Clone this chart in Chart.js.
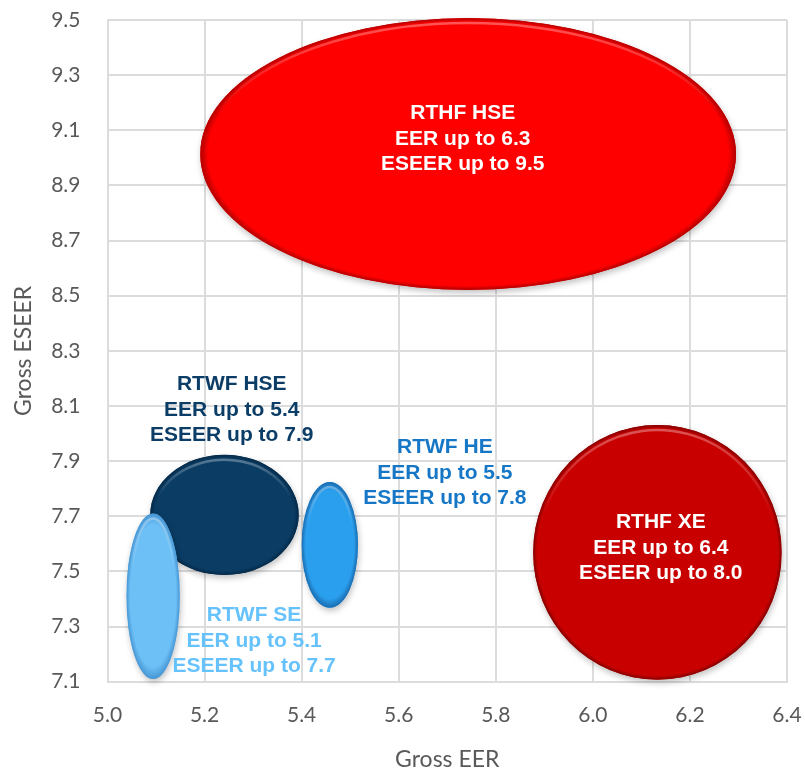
<!DOCTYPE html>
<html>
<head>
<meta charset="utf-8">
<script src="https://cdn.jsdelivr.net/npm/chart.js@4.4.1/dist/chart.umd.min.js"></script>
<style>
  html, body { margin: 0; padding: 0; background: #ffffff; }
  #wrap { width: 805px; height: 773px; position: relative; }
</style>
</head>
<body>
<div id="wrap"><canvas id="c" width="805" height="773"></canvas></div>
<script>
// ---- data ----
const categories   = ['RTHF HSE', 'RTHF XE', 'RTWF HSE', 'RTWF HE', 'RTWF SE'];
const centerEER    = [5.743, 6.133, 5.241, 5.458, 5.094];
const centerESEER  = [9.014, 7.569, 7.705, 7.596, 7.410];
const halfEER      = [0.552, 0.256, 0.153, 0.058, 0.055];
const halfESEER    = [0.493, 0.462, 0.218, 0.228, 0.300];
const maxEER       = ['6.3', '6.4', '5.4', '5.5', '5.1'];
const maxESEER     = ['9.5', '8.0', '7.9', '7.8', '7.7'];
const labelEER     = [5.732, 6.140, 5.256, 5.695, 5.302];
const labelESEER   = [9.068, 7.585, 8.085, 7.857, 7.248];
const xTicks = [5.0, 5.2, 5.4, 5.6, 5.8, 6.0, 6.2, 6.4];
const yTicks = [7.1, 7.3, 7.5, 7.7, 7.9, 8.1, 8.3, 8.5, 8.7, 8.9, 9.1, 9.3, 9.5];

// ---- styles ----
const fillBase  = ['#fe0000', '#c90000', '#0a3c64', '#2a9fee', '#6cc0f6'];
const fillDark  = ['#b00000', '#820000', '#052a48', '#1a6cb0', '#4896d4'];
const textColor = ['#ffffff', '#ffffff', '#0b3d66', '#1777c7', '#66c2fc'];

const ellipsePlugin = {
  id: 'ellipses',
  afterDatasetsDraw(chart) {
    const ctx = chart.ctx;
    const xs = chart.scales.x, ys = chart.scales.y;
    for (let i = 0; i < categories.length; i++) {
      const cx = xs.getPixelForValue(centerEER[i]);
      const cy = ys.getPixelForValue(centerESEER[i]);
      const rx = Math.abs(xs.getPixelForValue(centerEER[i] + halfEER[i]) - cx);
      const ry = Math.abs(ys.getPixelForValue(centerESEER[i] + halfESEER[i]) - cy);
      // shadow + base
      ctx.save();
      ctx.shadowColor = 'rgba(0,0,0,0.25)';
      ctx.shadowBlur = 6;
      ctx.shadowOffsetX = 1;
      ctx.shadowOffsetY = 3;
      ctx.beginPath();
      ctx.ellipse(cx, cy, rx, ry, 0, 0, Math.PI * 2);
      ctx.fillStyle = fillBase[i];
      ctx.fill();
      ctx.restore();
      // rim shading
      ctx.save();
      ctx.beginPath();
      ctx.ellipse(cx, cy, rx, ry, 0, 0, Math.PI * 2);
      ctx.clip();
      ctx.translate(cx, cy);
      ctx.scale(rx, ry);
      const g = ctx.createRadialGradient(0, -0.04, 0, 0, 0, 1);
      const rimStart = 1 - Math.min(0.14, 8 / Math.min(rx, ry) * 0.5);
      g.addColorStop(0, fillBase[i]);
      g.addColorStop(rimStart, fillBase[i]);
      g.addColorStop(1, fillDark[i]);
      ctx.fillStyle = g;
      ctx.fillRect(-1, -1, 2, 2);
      ctx.restore();
      // top highlight ring
      ctx.save();
      ctx.beginPath();
      ctx.ellipse(cx, cy + 1, Math.max(rx - 4, 1), Math.max(ry - 4, 1), 0, Math.PI * 1.08, Math.PI * 1.92);
      const lg = ctx.createLinearGradient(0, cy - ry, 0, cy - ry * 0.3);
      lg.addColorStop(0, 'rgba(255,255,255,0.35)');
      lg.addColorStop(1, 'rgba(255,255,255,0)');
      ctx.strokeStyle = lg;
      ctx.lineWidth = 2.5;
      ctx.stroke();
      ctx.restore();
    }
    // labels
    ctx.save();
    ctx.font = 'bold 21px "Liberation Sans", Arial, sans-serif';
    ctx.textAlign = 'center';
    ctx.textBaseline = 'middle';
    for (let i = 0; i < categories.length; i++) {
      const lx = xs.getPixelForValue(labelEER[i]);
      const ly = ys.getPixelForValue(labelESEER[i]);
      const lines = [categories[i], 'EER up to ' + maxEER[i], 'ESEER up to ' + maxESEER[i]];
      ctx.fillStyle = textColor[i];
      lines.forEach((t, k) => ctx.fillText(t, lx, ly + (k - 1) * 25.5));
    }
    ctx.restore();
  }
};

const tickFont = { family: 'Lato, "Open Sans", sans-serif', size: 21 };
const titleFont = { family: 'Lato, "Open Sans", sans-serif', size: 23 };

new Chart(document.getElementById('c'), {
  type: 'scatter',
  data: {
    datasets: [{
      label: 'Units',
      data: categories.map((c, i) => ({ x: centerEER[i], y: centerESEER[i] })),
      pointRadius: 0,
      pointHoverRadius: 0
    }]
  },
  options: {
    responsive: false,
    animation: false,
    events: [],
    layout: { padding: 0 },
    plugins: { legend: { display: false }, tooltip: { enabled: false } },
    scales: {
      x: {
        type: 'linear', min: 5.0, max: 6.4,
        afterBuildTicks: s => { s.ticks = xTicks.map(v => ({ value: v })); },
        afterFit: s => { s.height = 91.3; s.paddingLeft = 0; s.paddingRight = 18; },
        ticks: { color: '#595959', font: tickFont, padding: 21,
                 callback: v => Number(v).toFixed(1) },
        grid: { color: '#dcdcdc', lineWidth: 2, drawTicks: false },
        border: { color: '#dcdcdc', width: 2 },
        title: { display: true, text: 'Gross EER', color: '#595959', font: titleFont,
                 padding: { top: 0, bottom: 0 } }
      },
      y: {
        type: 'linear', min: 7.1, max: 9.5,
        afterBuildTicks: s => { s.ticks = yTicks.map(v => ({ value: v })); },
        afterFit: s => { s.width = 107.5; s.paddingTop = 20; s.paddingBottom = 0; },
        ticks: { color: '#595959', font: tickFont, padding: 27,
                 callback: v => Number(v).toFixed(1) },
        grid: { color: '#dcdcdc', lineWidth: 2, drawTicks: false },
        border: { color: '#dcdcdc', width: 2 },
        title: { display: true, text: 'Gross ESEER', color: '#595959', font: titleFont,
                 padding: { top: 10, bottom: 0 } }
      }
    }
  },
  plugins: [ellipsePlugin]
});
</script>
</body>
</html>
